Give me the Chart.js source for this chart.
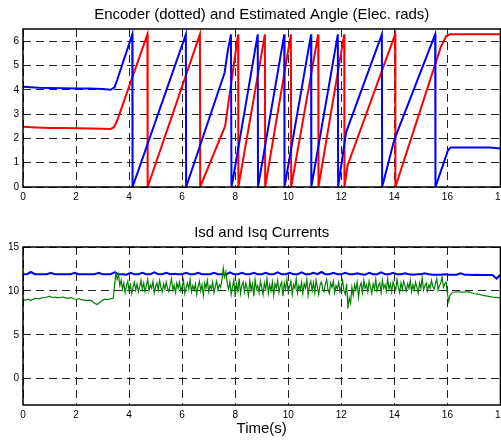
<!DOCTYPE html>
<html>
<head>
<meta charset="utf-8">
<script src="https://cdn.jsdelivr.net/npm/chart.js@4.4.1/dist/chart.umd.min.js"></script>
<style>
  html, body { margin: 0; padding: 0; background: #fff; overflow: hidden; }
  #wrap { position: relative; width: 501px; height: 440px; overflow: hidden; }
  canvas { position: absolute; left: 0; }
  #angleChart { top: 0; }
  #currentChart { top: 220px; }
</style>
</head>
<body>
<div id="wrap">
  <canvas id="angleChart" width="510" height="210"></canvas>
  <canvas id="currentChart" width="510" height="220"></canvas>
</div>
<script>
// tick values
const timeTicks = [0, 2, 4, 6, 8, 10, 12, 14, 16, 18];
const angleTicks = [0, 1, 2, 3, 4, 5, 6];
const currentTicks = [0, 5, 10, 15];

// top plot: blue trace
const estimatedT = [0, 0.3, 0.6, 1.0, 1.5, 2.0, 2.5, 3.0, 3.3, 3.45,
  3.55, 4.12, 4.13, 6.14, 6.15, 7.6, 7.72, 7.84, 7.86, 7.92,
  8.85, 8.86, 9.85, 9.86, 10.86, 10.87, 11.87, 11.88, 12.18, 13.53,
  13.54, 14.0, 15.54, 15.55, 16.02, 16.12, 17.0, 17.6, 18.0];
const estimatedAngle = [4.12, 4.1, 4.08, 4.07, 4.06, 4.05, 4.05, 4.03, 4.0, 4.1,
  4.4, 6.28, 0, 6.28, 0, 4.7, 5.6, 6.28, 0, 0.35,
  6.28, 0, 6.28, 0, 6.28, 0, 6.28, 0, 2.25, 6.28,
  0, 1.95, 6.28, 0, 1.5, 1.63, 1.63, 1.62, 1.58];

// top plot: red trace
const encoderT = [0, 0.5, 1.0, 1.5, 2.0, 2.5, 3.0, 3.3, 3.42, 3.52,
  3.62, 4.69, 4.7, 6.67, 6.68, 7.62, 8.11, 8.12, 9.12, 9.13,
  10.1, 10.11, 11.13, 11.14, 12.11, 12.12, 12.24, 14.03, 14.04, 15.75,
  15.95, 16.1, 18.0];
const encoderAngle = [2.48, 2.45, 2.43, 2.43, 2.42, 2.41, 2.4, 2.39, 2.45, 2.65,
  2.95, 6.28, 0, 6.28, 0, 2.5, 6.28, 0, 6.28, 0,
  6.28, 0, 6.28, 0, 6.28, 0, 0.9, 6.28, 0, 5.75,
  6.2, 6.28, 6.28];

// bottom plot: Isd (blue), sampled every 0.15 s from 0
const isdStep = 0.15;
const isdValues = [
  11.9, 11.9, 12.15, 11.9, 11.9, 11.9, 11.9, 12.05, 11.9, 11.9, 11.9, 11.9, 11.9, 12.05, 11.9, 11.9, 11.9, 11.9, 11.9, 12.05, 11.9,
  11.9, 11.9, 12.1, 11.9, 11.9, 11.85, 12.05, 11.9, 11.9, 12.05, 11.9, 11.9, 12.1, 11.9, 11.9, 12.05, 11.9, 11.95, 11.9, 11.9,
  12.05, 11.9, 11.9, 12.05, 11.9, 11.9, 11.9, 12.05, 11.9, 11.9, 11.85, 12.1, 11.9, 11.9, 12.05, 11.9, 11.9, 12.05, 11.9, 11.9,
  12.05, 11.9, 11.9, 12.1, 11.9, 11.9, 12.05, 11.9, 11.9, 12.1, 11.9, 11.9, 12.05, 11.9, 12.15, 11.9, 11.9, 12.05, 11.9, 11.9,
  12.05, 11.9, 11.9, 12.0, 11.9, 11.85, 12.05, 11.9, 11.9, 12.1, 11.9, 11.9, 12.05, 11.9, 11.9, 12.0, 11.9, 11.85, 11.9, 11.9,
  12.0, 11.9, 11.85, 11.85, 11.85, 11.9, 11.85, 11.85, 11.85, 12.0, 11.85, 11.85, 11.8, 11.85, 11.8, 11.8, 11.8, 11.8, 11.4, 11.8
];

// bottom plot: Isq (green)
const isqStartStep = 0.1;   // from 0 s to 3.4 s
const isqStartValues = [9.0, 8.95, 9.05, 8.9, 9.1, 9.15, 9.1, 9.2, 9.25, 9.3,
  9.4, 9.25, 9.3, 9.2, 9.25, 9.3, 9.2, 9.15, 9.25, 9.1,
  9.05, 9.1, 9.0, 8.95, 8.9, 8.95, 8.85, 8.6, 8.45, 8.7,
  8.95, 9.05, 9.0, 9.1, 9.15];
const isqNoisyStart = 3.5;
const isqNoisyStep = 0.05;  // from 3.5 s to 15.95 s
const isqNoisyValues = [
  12.0, 11.3, 11.9, 10.6, 11.2, 10.2, 10.9, 9.8, 10.6, 11.1, 10.0, 10.7, 9.7, 10.4, 11.0, 10.1, 10.8, 9.9, 10.5, 11.2,
  10.2, 10.9, 9.9, 10.6, 11.3, 10.0, 10.7, 10.3, 11.1, 9.8, 10.5, 10.9, 10.1, 11.2, 10.4, 9.9, 10.8, 10.2, 11.0, 10.3,
  9.9, 10.7, 11.4, 10.1, 10.6, 9.8, 10.9, 10.3, 11.0, 10.0, 10.5, 11.2, 9.7, 10.4, 10.9, 10.2, 11.3, 9.9, 10.6, 10.1,
  10.8, 9.6, 10.5, 11.1, 10.0, 10.7, 9.5, 10.9, 10.3, 11.2, 9.9, 10.6, 10.2, 11.0, 9.8, 10.5, 11.1, 10.1, 10.7, 10.4,
  11.3, 12.6, 11.6, 12.2, 10.8, 10.2, 11.0, 9.6, 10.5, 11.2, 9.3, 10.8, 10.0, 11.4, 9.7, 10.6, 11.0, 9.9, 10.9, 10.3,
  9.5, 11.2, 10.1, 10.8, 9.4, 11.3, 10.2, 10.6, 9.8, 11.1, 10.4, 9.6, 10.9, 10.2, 11.4, 9.7, 10.7, 10.0, 11.0, 9.5,
  10.8, 10.3, 11.2, 9.8, 10.6, 11.0, 9.4, 10.9, 10.2, 11.3, 9.9, 10.5, 11.1, 9.6, 10.7, 10.3, 11.4, 9.8, 10.6, 10.1,
  11.0, 9.7, 10.8, 10.3, 11.3, 9.5, 10.6, 11.1, 10.0, 10.9, 9.8, 11.2, 10.4, 9.6, 10.7, 11.0, 10.2, 9.9, 10.8, 11.3,
  10.1, 9.7, 10.9, 10.4, 11.1, 9.8, 10.6, 10.2, 11.0, 9.9, 10.5, 11.2, 10.0, 9.6, 10.8, 8.0, 9.2, 8.6, 10.4, 9.5,
  10.7, 10.1, 11.0, 9.3, 10.5, 10.9, 9.8, 11.2, 10.3, 10.7, 9.9, 11.1, 10.4, 9.7, 10.8, 10.2, 11.3, 10.0, 10.6, 10.9,
  9.8, 11.2, 10.3, 10.7, 10.0, 11.4, 10.2, 10.8, 9.9, 11.0, 10.5, 10.1, 11.3, 10.4, 9.8, 10.9, 10.2, 11.1, 10.6, 10.0,
  10.8, 10.3, 11.2, 9.9, 10.7, 10.1, 11.0, 10.4, 9.7, 10.9, 10.3, 11.5, 10.1, 10.6, 10.9, 10.0, 10.7, 10.3, 11.2, 10.5,
  10.2, 10.8, 11.4, 10.1, 10.6, 10.9, 11.6, 10.4, 10.8, 11.0
];
const isqTailT = [16.0, 16.05, 16.1, 16.2, 16.4, 16.6, 16.8, 17.0, 17.2, 17.4, 17.6, 17.8, 18.0];
const isqTailValues = [9.7, 8.8, 9.5, 9.85, 9.9, 9.85, 9.9, 9.7, 9.6, 9.45, 9.35, 9.25, 9.2];

function pairs(xs, ys) {
  return ys.map((y, i) => ({x: xs[i], y: y}));
}
function sampled(start, step, ys) {
  return ys.map((y, i) => ({x: +(start + i * step).toFixed(3), y: y}));
}

const isdData = sampled(0, isdStep, isdValues);
const isqData = sampled(0, isqStartStep, isqStartValues)
  .concat(sampled(isqNoisyStart, isqNoisyStep, isqNoisyValues))
  .concat(pairs(isqTailT, isqTailValues));

const FONT = "'Liberation Sans', Arial, sans-serif";

// black box round the plot area, like matlab axes
const boxPlugin = {
  id: 'box',
  afterDatasetsDraw(chart) {
    const {ctx, chartArea: a} = chart;
    ctx.save();
    ctx.strokeStyle = '#000';
    ctx.lineWidth = 1.5;
    ctx.strokeRect(a.left, a.top, a.right - a.left, a.bottom - a.top);
    ctx.restore();
  }
};

function axisX(withTitle, height) {
  return {
    type: 'linear',
    min: 0,
    max: 18,
    afterBuildTicks: s => { s.ticks = timeTicks.map(v => ({value: v})); },
    afterFit: s => { s.height = height; },
    grid: { color: '#222', lineWidth: 1, drawTicks: false },
    border: { display: false, dash: [8, 5] },
    ticks: { color: '#000', padding: 4, font: { family: FONT, size: 10 }, maxRotation: 0 },
    title: {
      display: withTitle,
      text: 'Time(s)',
      color: '#000',
      font: { family: FONT, size: 15 },
      padding: { top: 0, bottom: 2 }
    }
  };
}

function axisY(min, max, tickList) {
  return {
    min: min,
    max: max,
    afterBuildTicks: s => { s.ticks = tickList.map(v => ({value: v})); },
    afterFit: s => { s.width = 23; },
    grid: { color: '#222', lineWidth: 1, drawTicks: false },
    border: { display: false, dash: [8, 5] },
    ticks: { color: '#000', padding: 4, font: { family: FONT, size: 10 } }
  };
}

function titleOpts(text, top, bottom) {
  return {
    display: true,
    text: text,
    color: '#000',
    fullSize: false,
    font: { family: FONT, size: 15, weight: 'normal' },
    padding: { top: top, bottom: bottom }
  };
}

new Chart(document.getElementById('angleChart'), {
  type: 'line',
  data: {
    datasets: [
      {
        label: 'Estimated',
        data: pairs(estimatedT, estimatedAngle),
        borderColor: '#0000ff',
        borderWidth: 2
      },
      {
        label: 'Encoder',
        data: pairs(encoderT, encoderAngle),
        borderColor: '#ff0000',
        borderWidth: 2
      }
    ]
  },
  options: {
    responsive: false,
    animation: false,
    devicePixelRatio: 1,
    layout: { padding: 0 },
    elements: { point: { radius: 0 }, line: { tension: 0 } },
    plugins: {
      legend: { display: false },
      tooltip: { enabled: false },
      title: titleOpts('Encoder (dotted) and Estimated Angle (Elec. rads)', 6, 5)
    },
    scales: {
      x: axisX(false, 23),
      y: axisY(0, 6.5, angleTicks)
    }
  },
  plugins: [boxPlugin]
});

new Chart(document.getElementById('currentChart'), {
  type: 'line',
  data: {
    datasets: [
      {
        label: 'Isq',
        data: isqData,
        borderColor: '#008000',
        borderWidth: 1.2
      },
      {
        label: 'Isd',
        data: isdData,
        borderColor: '#0000ff',
        borderWidth: 2
      }
    ]
  },
  options: {
    responsive: false,
    animation: false,
    devicePixelRatio: 1,
    layout: { padding: 0 },
    elements: { point: { radius: 0 }, line: { tension: 0 } },
    plugins: {
      legend: { display: false },
      tooltip: { enabled: false },
      title: titleOpts('Isd and Isq Currents', 4, 5)
    },
    scales: {
      x: axisX(true, 35),
      y: axisY(-3, 15, currentTicks)
    }
  },
  plugins: [boxPlugin]
});
</script>
</body>
</html>
